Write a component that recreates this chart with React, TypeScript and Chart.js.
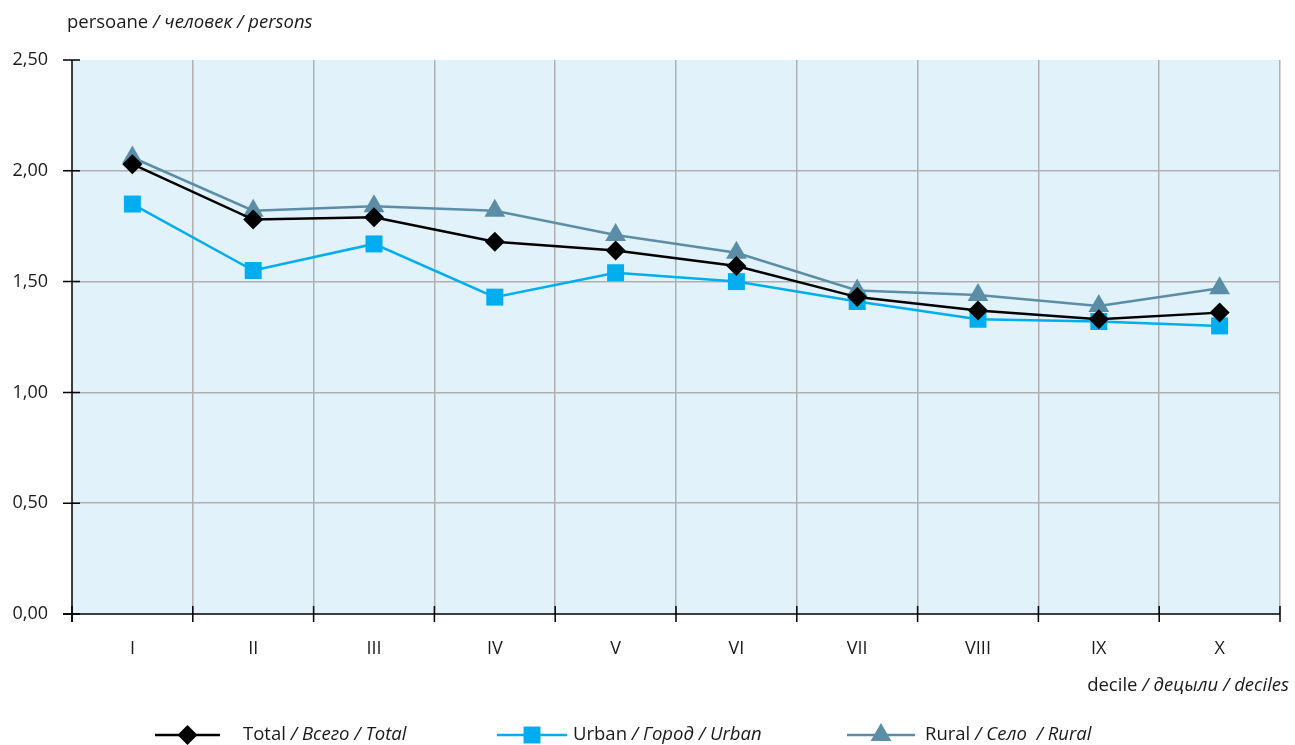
import React, { useEffect, useRef } from 'react';
import { Chart, registerables } from 'chart.js';
import { drawPoint } from 'chart.js/helpers';
Chart.register(...registerables);

const categories = ['I', 'II', 'III', 'IV', 'V', 'VI', 'VII', 'VIII', 'IX', 'X'];
const totalValues = [2.03, 1.78, 1.79, 1.68, 1.64, 1.57, 1.43, 1.37, 1.33, 1.36];
const urbanValues = [1.85, 1.55, 1.67, 1.43, 1.54, 1.50, 1.41, 1.33, 1.32, 1.30];
const ruralValues = [2.06, 1.82, 1.84, 1.82, 1.71, 1.63, 1.46, 1.44, 1.39, 1.47];
const yTickValues = [0, 0.5, 1, 1.5, 2, 2.5];

const seriesLabels = [
  [{ t: 'Total ', i: false }, { t: '/ Всего / Total', i: true }],
  [{ t: 'Urban ', i: false }, { t: '/ Город / Urban', i: true }],
  [{ t: 'Rural ', i: false }, { t: '/ Село  / Rural', i: true }],
];
const yTitle = [{ t: 'persoane ', i: false }, { t: '/ человек / persons', i: true }];
const xTitle = [{ t: 'decile ', i: false }, { t: '/ децыли / deciles', i: true }];

const FONT = '"Open Sans", "Noto Sans", sans-serif';
const FS = 18;
const TFS = 18.5;
const TOTAL_COLOR = '#000000';
const URBAN_COLOR = '#00aeef';
const RURAL_COLOR = '#5b8ea6';

function drawRich(ctx, parts, x, y, size, align) {
  ctx.save();
  ctx.textBaseline = 'middle';
  ctx.textAlign = 'left';
  ctx.fillStyle = '#1a1a1a';
  let total = 0;
  const widths = parts.map((p) => {
    ctx.font = `${p.i ? 'italic ' : ''}${size}px ${FONT}`;
    const w = ctx.measureText(p.t).width;
    total += w;
    return w;
  });
  let cx = align === 'right' ? x - total : x;
  parts.forEach((p, k) => {
    ctx.font = `${p.i ? 'italic ' : ''}${size}px ${FONT}`;
    ctx.fillText(p.t, cx, y);
    cx += widths[k];
  });
  ctx.restore();
}

const decorPlugin = {
  id: 'decor',
  beforeDraw(chart) {
    const { ctx, chartArea } = chart;
    ctx.save();
    ctx.fillStyle = '#e1f2fb';
    ctx.fillRect(chartArea.left, chartArea.top, chartArea.right - chartArea.left, chartArea.bottom - chartArea.top);
    ctx.restore();
  },
  beforeDatasetsDraw(chart) {
    const { ctx, chartArea, scales } = chart;
    ctx.save();
    ctx.strokeStyle = '#000';
    ctx.lineWidth = 1.5;
    ctx.beginPath();
    ctx.moveTo(chartArea.left, chartArea.top);
    ctx.lineTo(chartArea.left, chartArea.bottom + 8);
    ctx.moveTo(chartArea.left - 9, chartArea.bottom);
    ctx.lineTo(chartArea.right, chartArea.bottom);
    ctx.stroke();
    ctx.beginPath();
    yTickValues.forEach((v) => {
      const y = scales.y.getPixelForValue(v);
      ctx.moveTo(chartArea.left - 9, y);
      ctx.lineTo(chartArea.left + 8, y);
    });
    const n = categories.length;
    const step = (chartArea.right - chartArea.left) / n;
    for (let k = 0; k <= n; k++) {
      const x = chartArea.left + k * step;
      ctx.moveTo(x, chartArea.bottom - 8);
      ctx.lineTo(x, chartArea.bottom + 8);
    }
    ctx.stroke();
    ctx.restore();
  },
  afterDraw(chart) {
    const { ctx } = chart;
    drawRich(ctx, yTitle, 67, 23, TFS, 'left');
    drawRich(ctx, xTitle, 1289, 686, TFS, 'right');
    const legend = [
      { x1: 155, x2: 220, text: 243, color: TOTAL_COLOR, style: 'rectRot', r: 10 },
      { x1: 497, x2: 567, text: 573, color: URBAN_COLOR, style: 'rect', r: 12 },
      { x1: 847, x2: 915, text: 925, color: RURAL_COLOR, style: 'triangle', r: 12 },
    ];
    const ly = 735;
    legend.forEach((l, k) => {
      ctx.save();
      ctx.strokeStyle = l.color;
      ctx.lineWidth = 2.5;
      ctx.beginPath();
      ctx.moveTo(l.x1, ly);
      ctx.lineTo(l.x2, ly);
      ctx.stroke();
      ctx.fillStyle = l.color;
      ctx.strokeStyle = l.color;
      drawPoint(ctx, { pointStyle: l.style, radius: l.r, borderWidth: 0, rotation: 0 }, (l.x1 + l.x2) / 2, ly);
      ctx.restore();
      drawRich(ctx, seriesLabels[k], l.text, ly, TFS, 'left');
    });
  },
};

export default function App() {
  const ref = useRef(null);
  useEffect(() => {
    document.body.style.margin = '0';
    const n = categories.length;
    let chart = null;
    let cancelled = false;
    const build = () => {
      if (cancelled) return;
      chart = new Chart(ref.current, {
        type: 'line',
        data: {
          labels: categories,
          datasets: [
            {
              label: 'Total',
              data: totalValues,
              borderColor: TOTAL_COLOR,
              backgroundColor: TOTAL_COLOR,
              borderWidth: 2.5,
              pointStyle: 'rectRot',
              pointRadius: 10,
              pointBorderWidth: 0,
              tension: 0,
            },
            {
              label: 'Urban',
              data: urbanValues,
              borderColor: URBAN_COLOR,
              backgroundColor: URBAN_COLOR,
              borderWidth: 2.5,
              pointStyle: 'rect',
              pointRadius: 12,
              pointBorderWidth: 0,
              tension: 0,
            },
            {
              label: 'Rural',
              data: ruralValues,
              borderColor: RURAL_COLOR,
              backgroundColor: RURAL_COLOR,
              borderWidth: 2.5,
              pointStyle: 'triangle',
              pointRadius: 12,
              pointBorderWidth: 0,
              tension: 0,
            },
          ],
        },
        options: {
          responsive: false,
          animation: false,
          events: [],
          layout: { padding: { top: 60, right: 15, bottom: 81, left: 0 } },
          plugins: { legend: { display: false }, tooltip: { enabled: false }, title: { display: false } },
          scales: {
            x: {
              offset: true,
              grid: {
                offset: true,
                drawTicks: false,
                color: (c) => (c.index === 0 || c.index >= n ? 'rgba(0,0,0,0)' : '#b0b0b0'),
                lineWidth: 1.5,
              },
              border: { display: false },
              ticks: { color: '#1a1a1a', font: { family: FONT, size: FS }, padding: 24 },
              afterFit: (s) => { s.height = 50; },
            },
            y: {
              min: 0,
              max: 2.5,
              afterBuildTicks: (s) => { s.ticks = yTickValues.map((v) => ({ value: v })); },
              grid: {
                drawTicks: false,
                color: (c) => (c.tick && (c.tick.value === 0 || c.tick.value === 2.5) ? 'rgba(0,0,0,0)' : '#b0b0b0'),
                lineWidth: 1.5,
              },
              border: { display: false },
              ticks: {
                color: '#1a1a1a',
                font: { family: FONT, size: FS },
                padding: 24,
                callback: (v) => Number(v).toFixed(2).replace('.', ','),
              },
              afterFit: (s) => { s.width = 72; },
            },
          },
        },
        plugins: [decorPlugin],
      });
    };
    const fonts = (document as any).fonts;
    if (fonts && fonts.load) {
      Promise.all([
        fonts.load(`${FS}px "Open Sans"`),
        fonts.load(`italic ${FS}px "Open Sans"`),
      ]).then(build, build);
    } else {
      build();
    }
    return () => {
      cancelled = true;
      if (chart) chart.destroy();
    };
  }, []);
  return (
    <div style={{ position: 'absolute', left: 0, top: 0, width: 1295, height: 745 }}>
      <canvas ref={ref} width={1295} height={745} style={{ width: 1295, height: 745, display: 'block' }} />
    </div>
  );
}
